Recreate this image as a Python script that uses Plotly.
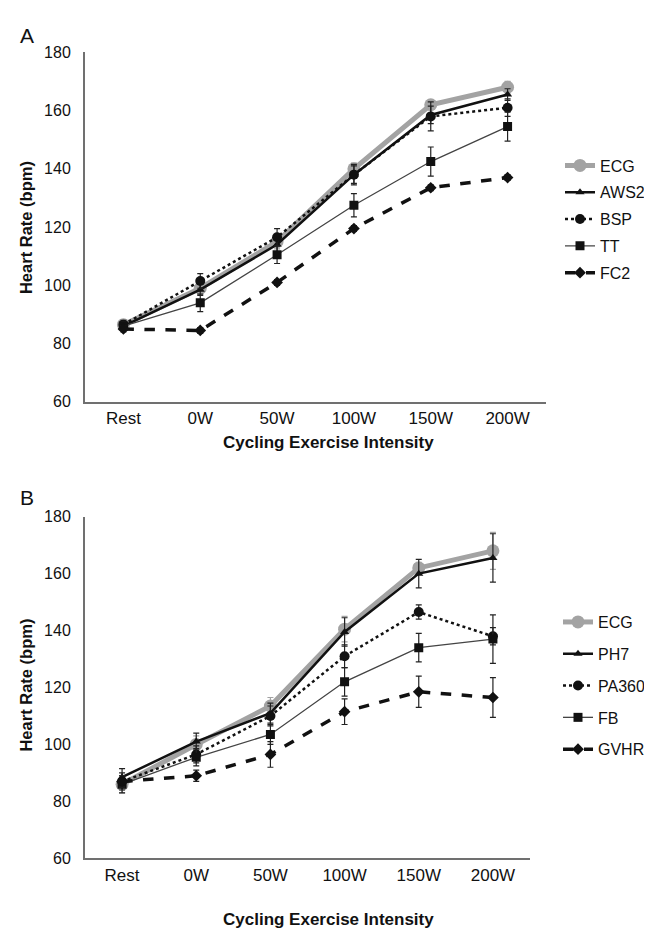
import plotly.graph_objects as go

categories = ["Rest", "0W", "50W", "100W", "150W", "200W"]
y_ticks = [60, 80, 100, 120, 140, 160, 180]

# Panel A
a_ecg = [86.5, 99, 115, 140, 162, 168]
a_ecg_err = [1.5, 2, 2.5, 2, 1.5, 2]
a_aws2 = [86, 98.5, 114, 138, 158.5, 165.5]
a_aws2_err = [1.5, 2, 2.5, 3, 3, 2]
a_bsp = [86.5, 101.5, 116.5, 138, 158, 161]
a_bsp_err = [1.5, 2.5, 3, 3.5, 5, 3]
a_tt = [86, 94, 110.5, 127.5, 142.5, 154.5]
a_tt_err = [1.5, 3, 3, 4, 5, 5]
a_fc2 = [85, 84.5, 101, 119.5, 133.5, 137]
a_fc2_err = [1, 1, 1, 1, 1, 1]

# Panel B
b_ecg = [86, 100, 113.5, 140.5, 162, 168]
b_ecg_err = [3, 3, 3, 4.5, 2, 6.5]
b_ph7 = [88.5, 101, 111, 139.5, 160, 165.5]
b_ph7_err = [3, 3, 3.5, 5, 5, 8.5]
b_pa360 = [87, 96.5, 110, 131, 146.5, 138]
b_pa360_err = [3, 3, 3.5, 4, 2.5, 3]
b_fb = [86, 95.5, 103.5, 122, 134, 137]
b_fb_err = [3, 3, 3.5, 5, 5, 8.5]
b_gvhr = [87, 89, 96.5, 111.5, 118.5, 116.5]
b_gvhr_err = [2, 2, 4.5, 4.5, 5.5, 7]

GRAY = "#a3a3a3"
BLACK = "#111111"
DARK = "#444444"

styles = {
    "ECG": dict(color=GRAY, width=5, dash="solid", symbol="circle", size=13),
    "AWS2": dict(color=BLACK, width=2.5, dash="solid", symbol="triangle-up", size=8),
    "PH7": dict(color=BLACK, width=2.5, dash="solid", symbol="triangle-up", size=8),
    "BSP": dict(color=BLACK, width=2.5, dash="dot", symbol="circle", size=10),
    "PA360": dict(color=BLACK, width=2.5, dash="dot", symbol="circle", size=10),
    "TT": dict(color=DARK, width=1.3, dash="solid", symbol="square", size=9),
    "FB": dict(color=DARK, width=1.3, dash="solid", symbol="square", size=9),
    "FC2": dict(color=BLACK, width=3.5, dash="dash", symbol="diamond", size=9),
    "GVHR": dict(color=BLACK, width=3.5, dash="dash", symbol="diamond", size=9),
}

fig = go.Figure()

def add(name, vals, errs, xa, ya, legend):
    s = styles[name]
    mcol = GRAY if name == "ECG" else BLACK
    fig.add_trace(go.Scatter(
        x=categories, y=vals, name=name, mode="lines+markers",
        xaxis=xa, yaxis=ya, legend=legend, legendgroup=legend + name,
        line=dict(color=s["color"], width=s["width"], dash=s["dash"]),
        marker=dict(symbol=s["symbol"], size=s["size"], color=mcol),
        error_y=dict(type="data", array=errs, visible=True,
                     color=GRAY if name == "ECG" else "#222222",
                     thickness=1.2, width=3),
    ))

add("ECG", a_ecg, a_ecg_err, "x", "y", "legend")
add("AWS2", a_aws2, a_aws2_err, "x", "y", "legend")
add("BSP", a_bsp, a_bsp_err, "x", "y", "legend")
add("TT", a_tt, a_tt_err, "x", "y", "legend")
add("FC2", a_fc2, a_fc2_err, "x", "y", "legend")

add("ECG", b_ecg, b_ecg_err, "x2", "y2", "legend2")
add("PH7", b_ph7, b_ph7_err, "x2", "y2", "legend2")
add("PA360", b_pa360, b_pa360_err, "x2", "y2", "legend2")
add("FB", b_fb, b_fb_err, "x2", "y2", "legend2")
add("GVHR", b_gvhr, b_gvhr_err, "x2", "y2", "legend2")

W, H = 652, 931
def px(x):
    return x / W
def py(y):
    return 1 - y / H

FONT = "Liberation Sans, Arial"
xcommon = dict(type="category", categoryorder="array", categoryarray=categories,
               range=[-0.5, 5.5], showline=True, linecolor="#707070", linewidth=2,
               ticks="", showgrid=False, zeroline=False,
               tickfont=dict(family=FONT, size=17, color="#111111"),
               fixedrange=True)
ycommon = dict(range=[60, 180], tickvals=y_ticks, showline=True, linecolor="#707070",
               linewidth=2, ticks="", showgrid=False, zeroline=False,
               tickfont=dict(family=FONT, size=16, color="#111111"),
               ticklabelstandoff=9, fixedrange=True)

legcommon = dict(font=dict(family=FONT, size=16, color="#111111"),
                 bgcolor="rgba(0,0,0,0)", traceorder="grouped", itemwidth=30,
                 xanchor="left", yanchor="top")

fig.update_layout(
    width=W, height=H, margin=dict(l=0, r=0, t=0, b=0),
    paper_bgcolor="white", plot_bgcolor="white", showlegend=True,
    xaxis=dict(domain=[px(77), px(538)], anchor="y", **xcommon),
    yaxis=dict(domain=[py(393), py(37)], anchor="x", **ycommon),
    xaxis2=dict(domain=[px(77), px(522)], anchor="y2", **xcommon),
    yaxis2=dict(domain=[py(858), py(510)], anchor="x2", **ycommon),
    legend=dict(x=px(552), y=py(135), tracegroupgap=3, **legcommon),
    legend2=dict(x=px(550), y=py(600), tracegroupgap=8, **legcommon),
)

title_font = dict(family=FONT, size=17, color="#111111")
ytitle_font = dict(family=FONT, size=16.5, color="#111111")
annotations = [
    dict(text="A", x=px(10), y=py(20), xanchor="left", yanchor="middle",
         font=dict(family=FONT, size=21, color="#111111")),
    dict(text="B", x=px(10), y=py(490), xanchor="left", yanchor="middle",
         font=dict(family=FONT, size=21, color="#111111")),
    dict(text="<b>Heart Rate (bpm)</b>", x=px(18), y=py(216), textangle=-90,
         xanchor="center", yanchor="middle", font=ytitle_font),
    dict(text="<b>Heart Rate (bpm)</b>", x=px(18), y=py(682), textangle=-90,
         xanchor="center", yanchor="middle", font=ytitle_font),
    dict(text="<b>Cycling Exercise Intensity</b>", x=px(320), y=py(434),
         xanchor="center", yanchor="middle", font=title_font),
    dict(text="<b>Cycling Exercise Intensity</b>", x=px(320), y=py(920),
         xanchor="center", yanchor="middle", font=title_font),
]
for a in annotations:
    a.update(xref="paper", yref="paper", showarrow=False)
fig.update_layout(annotations=annotations)

fig.write_html("out.html")
